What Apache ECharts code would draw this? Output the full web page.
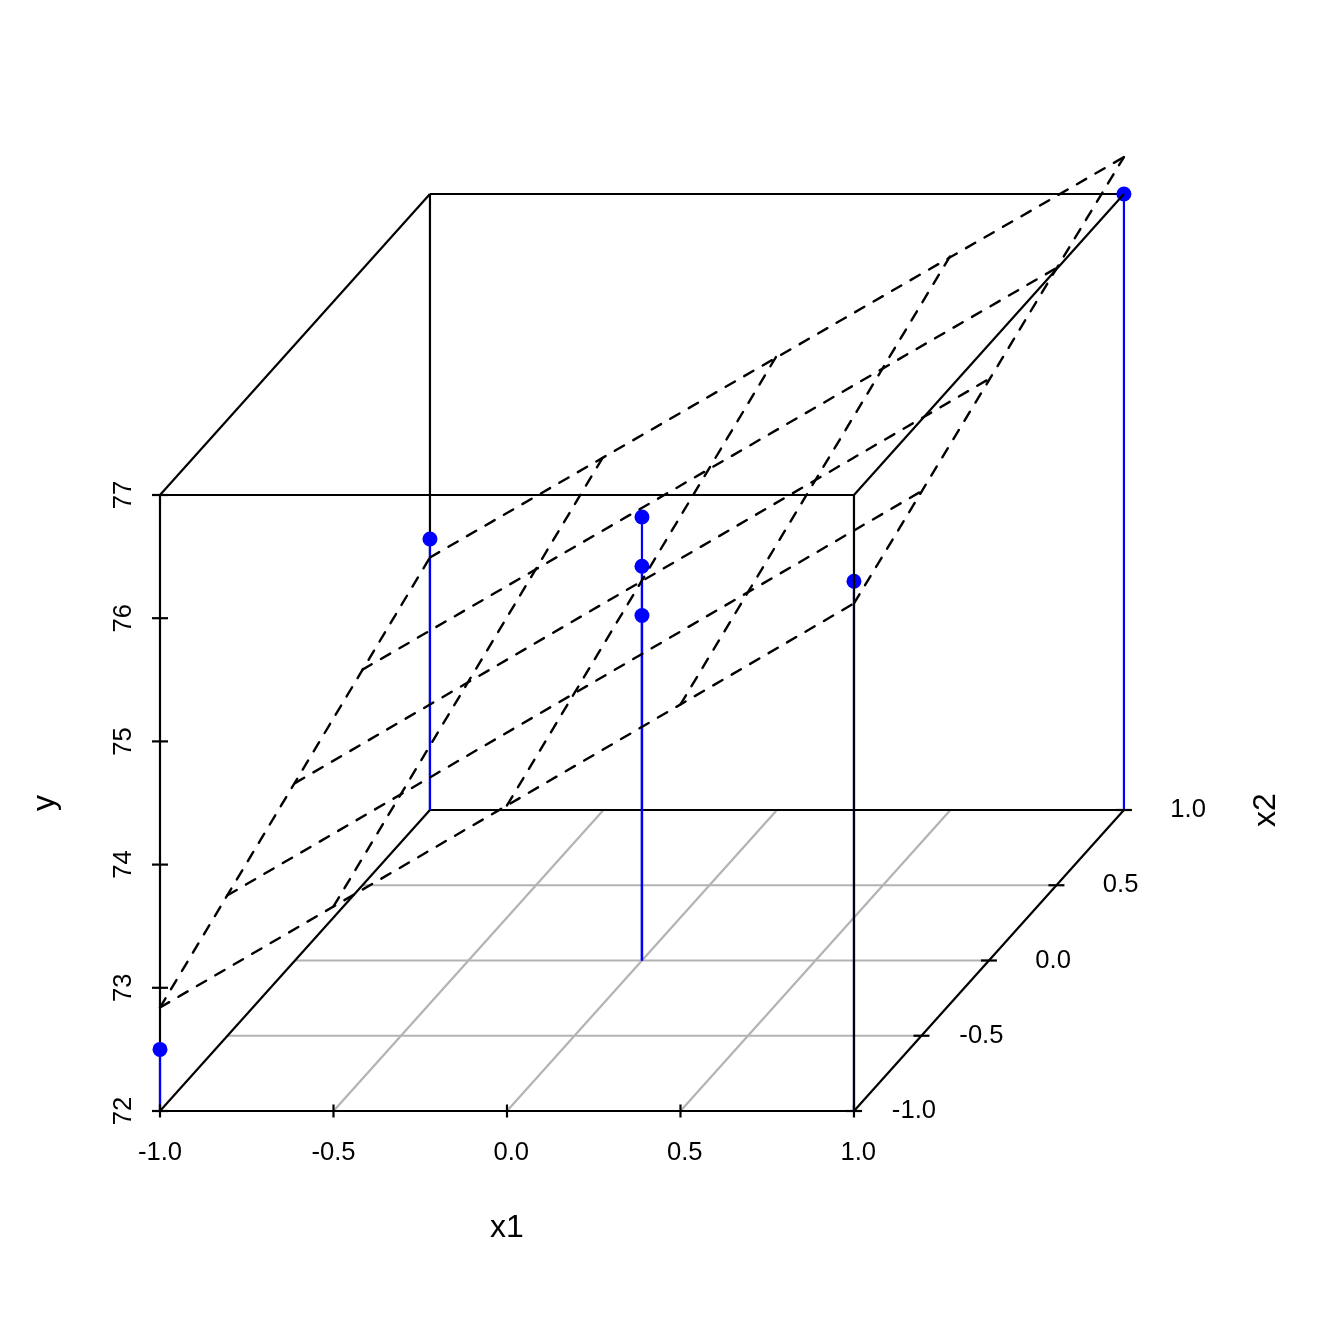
<!DOCTYPE html>
<html>
<head>
<meta charset="utf-8">
<style>html,body{margin:0;padding:0;background:#fff}#c{width:1344px;height:1344px}</style>
<script src="https://cdn.jsdelivr.net/npm/echarts@6/dist/echarts.min.js"></script>
</head>
<body>
<div id="c"></div>
<script>
// Observations (x1, x2, y)
const obsX1 = [-1, -1, 1, 1, 0, 0, 0];
const obsX2 = [-1, 1, -1, 1, 0, 0, 0];
const obsY  = [72.5, 74.2, 76.3, 77.0, 75.6, 75.2, 74.8];
// Tick values
const x1Ticks = [-1, -0.5, 0, 0.5, 1];
const x2Ticks = [-1, -0.5, 0, 0.5, 1];
const yTicks  = [72, 73, 74, 75, 76, 77];
// Fitted plane heights read along each edge of the box
const planeFront = [72.84, 73.66, 74.48, 75.30, 76.12]; // x2 = -1, by x1
const planeBack  = [74.05, 74.87, 75.69, 76.50, 77.30]; // x2 =  1, by x1
const planeLeft  = [72.84, 73.14, 73.44, 73.75, 74.05]; // x1 = -1, by x2
const planeRight = [76.12, 76.42, 76.72, 77.01, 77.30]; // x1 =  1, by x2

// Oblique projection into the flat cartesian grid
const SHIFT_X = 0.389, SHIFT_Y = 1.2216;
const proj = (x1, x2, y) => [x1 + (x2 + 1) * SHIFT_X, y + (x2 + 1) * SHIFT_Y];

const FONT = '"Liberation Sans", Arial, sans-serif';
const BLACK = '#000', BLUE = '#0000ff', GRAY = '#b3b3b3';
const LW = 2.2;
const yLo = yTicks[0], yHi = yTicks[yTicks.length - 1];

const series = [];
function seg(a, b, color, z, dash) {
  series.push({
    type: 'line', data: [proj(...a), proj(...b)], clip: false, silent: true,
    showSymbol: false, symbol: 'none', z, animation: false,
    lineStyle: { color, width: dash ? 2.4 : LW, opacity: 1, type: dash ? [10.67, 10.67] : 'solid', cap: dash ? 'round' : 'butt' }
  });
}
// floor grid
x1Ticks.slice(1, -1).forEach(t => seg([t, -1, yLo], [t, 1, yLo], GRAY, 2));
x2Ticks.slice(1, -1).forEach(t => seg([-1, t, yLo], [1, t, yLo], GRAY, 2));
// box drawn behind the points
seg([-1, -1, yLo], [1, -1, yLo], BLACK, 3);
seg([1, -1, yLo], [1, 1, yLo], BLACK, 3);
seg([-1, -1, yLo], [-1, 1, yLo], BLACK, 3);
seg([-1, 1, yLo], [1, 1, yLo], BLACK, 3);
seg([-1, -1, yLo], [-1, -1, yHi], BLACK, 3);
seg([-1, 1, yLo], [-1, 1, yHi], BLACK, 3);
seg([-1, 1, yHi], [1, 1, yHi], BLACK, 3);
// stems
obsY.forEach((y, i) => seg([obsX1[i], obsX2[i], yLo], [obsX1[i], obsX2[i], y], BLUE, 4));
// points
series.push({
  type: 'scatter', clip: false, silent: true, z: 5, animation: false,
  symbol: 'circle', symbolSize: 15, itemStyle: { color: BLUE, opacity: 1 },
  data: obsY.map((y, i) => proj(obsX1[i], obsX2[i], y))
});
// box drawn in front of the points
seg([-1, -1, yHi], [1, -1, yHi], BLACK, 6);
seg([1, -1, yHi], [1, 1, yHi], BLACK, 6);
seg([-1, -1, yHi], [-1, 1, yHi], BLACK, 6);
seg([1, -1, yLo], [1, -1, yHi], BLACK, 6);
// fitted plane
x1Ticks.forEach((t, i) => seg([t, -1, planeFront[i]], [t, 1, planeBack[i]], BLACK, 7, true));
x2Ticks.forEach((t, i) => seg([-1, t, planeLeft[i]], [1, t, planeRight[i]], BLACK, 7, true));

// tick marks, centred on the axes
function ticks(points, dx, dy) {
  series.push({
    type: 'custom', clip: false, silent: true, z: 8, animation: false,
    coordinateSystem: 'cartesian2d', encode: { x: 0, y: 1 },
    data: points,
    renderItem(params, api) {
      const p = api.coord([api.value(0), api.value(1)]);
      return { type: 'line', transition: [], shape: { x1: p[0] - dx, y1: p[1] - dy, x2: p[0] + dx, y2: p[1] + dy },
        style: { stroke: BLACK, lineWidth: LW } };
    }
  });
}
ticks(x1Ticks.map(t => proj(t, -1, yLo)), 0, 6.5);
ticks(yTicks.map(t => proj(-1, -1, t)), 8, 0);
ticks(x2Ticks.map(t => proj(1, t, yLo)), 8, 0);

// x2 tick labels, carried by the points of the x2 axis
series.push({
  type: 'scatter', clip: false, silent: true, z: 9, animation: false,
  symbolSize: 0, itemStyle: { opacity: 1 },
  data: x2Ticks.map(t => ({ value: proj(1, t, yLo), tick: t })),
  label: {
    show: true, position: 'inside', align: 'right', verticalAlign: 'middle',
    offset: [82, 0], color: BLACK, opacity: 1, fontFamily: FONT, fontSize: 25.6,
    formatter: p => p.data.tick.toFixed(1)
  }
});

const chart = echarts.init(document.getElementById('c'), null, { renderer: 'canvas' });
chart.setOption({
  animation: false,
  backgroundColor: '#fff',
  grid: { left: 160, width: 964, top: 125.4, height: 985.6, containLabel: false },
  xAxis: {
    type: 'value', min: -1, max: 1.7782, splitLine: { show: false },
    axisLine: { show: false }, axisTick: { show: false },
    axisLabel: {
      customValues: x1Ticks, formatter: v => v.toFixed(1), align: 'right',
      padding: [0, -22, 0, 0], margin: 29, color: BLACK, fontFamily: FONT, fontSize: 25.6
    }
  },
  yAxis: {
    type: 'value', min: 72, max: 80, splitLine: { show: false },
    axisLine: { show: false }, axisTick: { show: false },
    axisLabel: {
      customValues: yTicks, formatter: v => String(v), rotate: 90, margin: 23,
      color: BLACK, fontFamily: FONT, fontSize: 25.6
    }
  },
  graphic: [
    { type: 'text', x: 507, y: 1228, style: { text: 'x1', font: '32px ' + FONT, fill: BLACK, textAlign: 'center', textVerticalAlign: 'middle' } },
    { type: 'text', x: 45, y: 803, rotation: Math.PI / 2, style: { text: 'y', font: '32px ' + FONT, fill: BLACK, textAlign: 'center', textVerticalAlign: 'middle' } },
    { type: 'text', x: 1266, y: 810, rotation: Math.PI / 2, style: { text: 'x2', font: '32px ' + FONT, fill: BLACK, textAlign: 'center', textVerticalAlign: 'middle' } }
  ],
  series
});
</script>
</body>
</html>
